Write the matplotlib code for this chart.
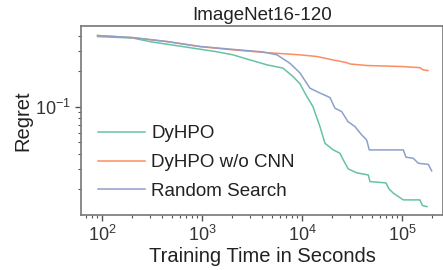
import matplotlib
matplotlib.use("Agg")
import matplotlib.pyplot as plt
import numpy as np

plt.rcParams['font.family'] = ['Liberation Sans', 'DejaVu Sans']

title = "ImageNet16-120"
xlabel = "Training Time in Seconds"
ylabel = "Regret"
labels = ["DyHPO", "DyHPO w/o CNN", "Random Search"]
colors = ["#66c2a5", "#fc8d62", "#8da0cb"]

t_dyhpo = [90.6, 204, 302, 646, 1413, 2042, 3020, 4467, 6457, 8128, 9550, 11220, 12880,
           15140, 16980, 20560, 23990, 25880, 29040, 35480, 46030, 47860, 69180, 74130,
           81850, 103000, 151000, 160300, 177800]
r_dyhpo = [0.394, 0.383, 0.357, 0.324, 0.293, 0.276, 0.250, 0.227, 0.213, 0.181, 0.157,
           0.122, 0.1006, 0.0681, 0.0492, 0.0432, 0.0405, 0.0356, 0.0298, 0.0276, 0.0265,
           0.0233, 0.0227, 0.0202, 0.0186, 0.0163, 0.0163, 0.0146, 0.0143]

t_nocnn = [90.6, 204, 447, 955, 2042, 4467, 9550, 14125, 20400, 28000, 30200, 44700,
           95500, 151000, 162000, 182000]
r_nocnn = [0.402, 0.386, 0.357, 0.324, 0.304, 0.288, 0.276, 0.267, 0.250, 0.237, 0.231,
           0.224, 0.220, 0.215, 0.206, 0.203]

t_rs = [90.6, 204, 447, 955, 2042, 4074, 5623, 7586, 9550, 12020, 15140, 19050, 21380,
        24950, 28840, 33880, 39540, 44360, 47100, 103000, 109600, 129700, 145600, 183200,
        198000]
r_rs = [0.402, 0.386, 0.358, 0.325, 0.307, 0.292, 0.276, 0.234, 0.194, 0.144, 0.131,
        0.120, 0.0975, 0.0912, 0.0750, 0.0681, 0.0579, 0.0525, 0.0432, 0.0432, 0.0375,
        0.0367, 0.0333, 0.0326, 0.0287]

fig = plt.figure(figsize=(4.43, 2.70), dpi=100)
ax = fig.add_axes([0.183, 0.204, 0.817, 0.700])

for t, r, lab, c in zip([t_dyhpo, t_nocnn, t_rs], [r_dyhpo, r_nocnn, r_rs], labels, colors):
    ax.plot(t, r, color=c, lw=1.1, label=lab)

ax.set_xscale('log')
ax.set_yscale('log')
ax.set_xlim(62, 2.57e5)
ax.set_ylim(0.01216, 0.485)

for s in ['left', 'bottom', 'top', 'right']:
    ax.spines[s].set_color('#777777')
    ax.spines[s].set_linewidth(1.2)
ax.tick_params(which='major', direction='out', length=4, width=1, color='#555555',
               labelsize=13, colors='#333333')
ax.tick_params(which='minor', direction='out', length=2.5, width=0.8, color='#555555')
ax.tick_params(axis='y', which='minor', labelleft=False)

ax.set_title(title, fontsize=13.5, color='#222222', pad=4)
ax.set_xlabel(xlabel, fontsize=14.5, color='#222222', labelpad=1)
ax.set_ylabel(ylabel, fontsize=14.5, color='#222222', labelpad=2)

leg = ax.legend(loc='lower left', frameon=False, fontsize=13.5, handlelength=2.5,
                handletextpad=0.35, labelspacing=0.62, bbox_to_anchor=(0.0, -0.01))
for txt in leg.get_texts():
    txt.set_color('#222222')

fig.savefig("out.png", dpi=100)
